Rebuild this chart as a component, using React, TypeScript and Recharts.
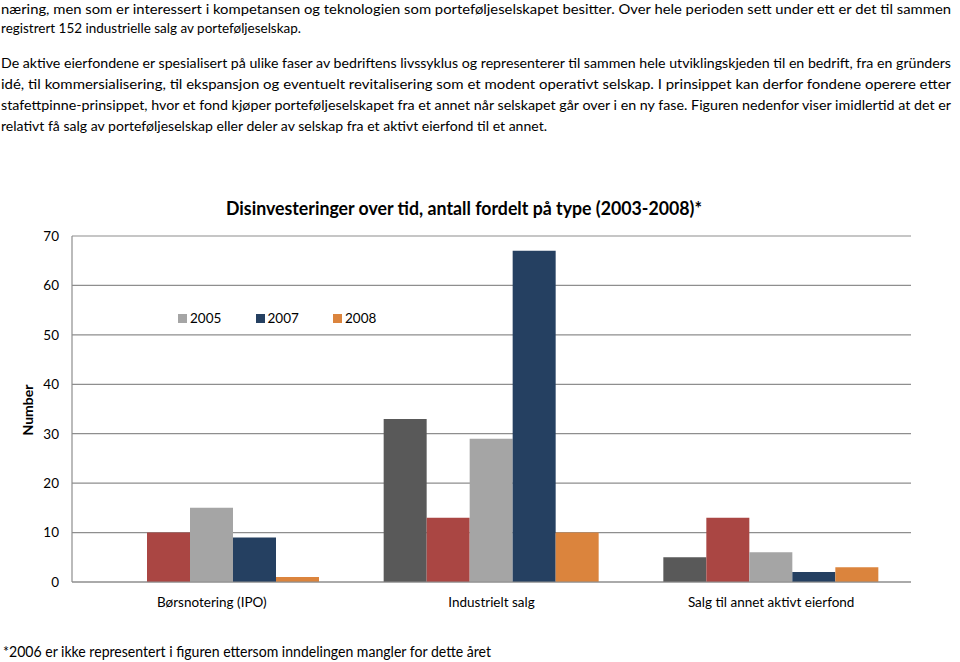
import React from 'react';
import { BarChart, Bar, XAxis, YAxis, CartesianGrid, Legend } from 'recharts';

// ---- chart data ----
const categories = ['Børsnotering (IPO)', 'Industrielt salg', 'Salg til annet aktivt eierfond'];
const years = ['2003', '2004', '2005', '2007', '2008'];
const values2003 = [0, 33, 5];
const values2004 = [10, 13, 13];
const values2005 = [15, 29, 6];
const values2007 = [9, 67, 2];
const values2008 = [1, 10, 3];
const yTicks = [0, 10, 20, 30, 40, 50, 60, 70];
const legendYears = ['2005', '2007', '2008'];

// ---- texts ----
const chartTitle = 'Disinvesteringer over tid, antall fordelt på type (2003-2008)*';
const yAxisTitle = 'Number';
const footnote = '*2006 er ikke representert i figuren ettersom inndelingen mangler for dette året';
const bodyLines = [
  'næring, men som er interessert i kompetansen og teknologien som porteføljeselskapet besitter. Over hele perioden sett under ett er det til sammen',
  'registrert 152 industrielle salg av porteføljeselskap.',
  'De aktive eierfondene er spesialisert på ulike faser av bedriftens livssyklus og representerer til sammen hele utviklingskjeden til en bedrift, fra en gründers',
  'idé, til kommersialisering, til ekspansjon og eventuelt revitalisering som et modent operativt selskap. I prinsippet kan derfor fondene operere etter',
  'stafettpinne-prinsippet, hvor et fond kjøper porteføljeselskapet fra et annet når selskapet går over i en ny fase. Figuren nedenfor viser imidlertid at det er',
  'relativt få salg av porteføljeselskap eller deler av selskap fra et aktivt eierfond til et annet.',
];

// ---- styling (not data) ----
const bodyLayout = [
  { y: 14, w: 950 },
  { y: 33, w: 300 },
  { y: 68, w: 950 },
  { y: 89, w: 950 },
  { y: 110, w: 950 },
  { y: 131, w: 546 },
];
const colors: Record<string, string> = {
  '2003': '#595959',
  '2004': '#AA4643',
  '2005': '#A5A5A5',
  '2007': '#254061',
  '2008': '#DB843D',
};
const FONT = 'Lato, "Open Sans", sans-serif';
const GRID = '#8E8E8E';

const seriesValues: Record<string, number[]> = {
  '2003': values2003,
  '2004': values2004,
  '2005': values2005,
  '2007': values2007,
  '2008': values2008,
};

const data = categories.map((c, i) => {
  const row: Record<string, string | number> = { category: c };
  years.forEach((y) => {
    row[y] = seriesValues[y][i];
  });
  return row;
});

const LegendContent = () => (
  <div style={{ display: 'flex', fontFamily: FONT, fontSize: 13.5, color: '#000', lineHeight: '18px' }}>
    {legendYears.map((y) => (
      <div key={y} style={{ width: 77.5, display: 'flex', alignItems: 'center' }}>
        <span style={{ display: 'inline-block', width: 9, height: 9, background: colors[y], marginRight: 3 }} />
        <span>{y}</span>
      </div>
    ))}
  </div>
);

export default function App() {
  return (
    <div
      style={{
        position: 'absolute',
        left: 0,
        top: 0,
        width: 960,
        height: 662,
        background: '#fff',
        overflow: 'hidden',
      }}
    >
      <div style={{ position: 'absolute', left: 0, top: 0 }}>
        <BarChart
          width={960}
          height={662}
          data={data}
          margin={{ top: 236, right: 49, bottom: 50, left: 42 }}
          barCategoryGap={32}
          barGap={0}
        >
          <CartesianGrid vertical={false} stroke={GRID} strokeWidth={1.2} />
          <XAxis
            dataKey="category"
            height={30}
            tickLine={false}
            axisLine={{ stroke: GRID, strokeWidth: 1.2 }}
            tickSize={6}
            tickMargin={9}
            tick={{ fontFamily: FONT, fontSize: 13.5, fill: '#000' }}
            interval={0}
          />
          <YAxis
            width={30}
            domain={[0, 70]}
            ticks={yTicks}
            tickLine={false}
            axisLine={{ stroke: GRID, strokeWidth: 1.2 }}
            tickSize={6}
            tickMargin={7}
            tick={{ fontFamily: FONT, fontSize: 13.5, fill: '#000' }}
          />
          <Legend
            layout="horizontal"
            verticalAlign="middle"
            align="center"
            content={<LegendContent />}
            wrapperStyle={{ position: 'absolute', left: 178, top: 309, width: 260 }}
          />
          {years.map((y) => (
            <Bar key={y} dataKey={y} fill={colors[y]} isAnimationActive={false} />
          ))}
        </BarChart>
      </div>
      <svg
        width={960}
        height={662}
        style={{ position: 'absolute', left: 0, top: 0, pointerEvents: 'none' }}
      >
        {bodyLines.map((line, i) => (
          <text
            key={i}
            x={1}
            y={bodyLayout[i].y}
            fontFamily={FONT}
            fontSize={14}
            fill="#000"
            textLength={bodyLayout[i].w}
            lengthAdjust="spacingAndGlyphs"
          >
            {line}
          </text>
        ))}
        <text
          x={464}
          y={215}
          textAnchor="middle"
          fontFamily={FONT}
          fontWeight="bold"
          fontSize={19.5}
          fill="#000"
          textLength={476}
          lengthAdjust="spacingAndGlyphs"
        >
          {chartTitle}
        </text>
        <text
          x={0}
          y={0}
          transform="translate(33,410) rotate(-90)"
          textAnchor="middle"
          fontFamily={FONT}
          fontWeight="bold"
          fontSize={14}
          fill="#000"
        >
          {yAxisTitle}
        </text>
        <text
          x={3}
          y={657}
          fontFamily={FONT}
          fontSize={14.5}
          fill="#000"
          textLength={488}
          lengthAdjust="spacingAndGlyphs"
        >
          {footnote}
        </text>
      </svg>
    </div>
  );
}
